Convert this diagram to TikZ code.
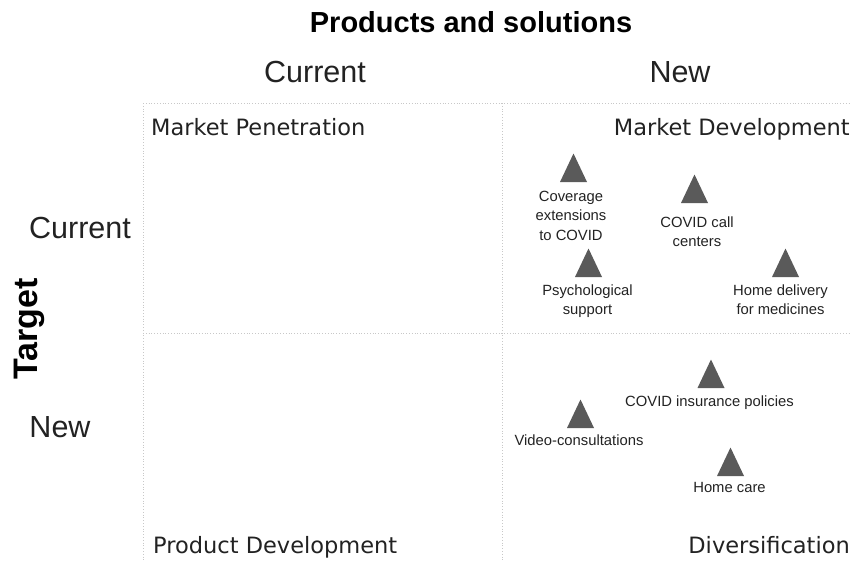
\documentclass[tikz,border=0pt]{standalone}
\usepackage{fontspec}
\setmainfont{Liberation Sans}
\newfontfamily\quadfont{DejaVu Sans}
\definecolor{trigray}{HTML}{5A5A5A}
\definecolor{gridgray}{HTML}{C8C8C8}
\definecolor{txtdark}{HTML}{222222}
\tikzset{
  gridline/.style={draw=gridgray, line width=0.8pt, dotted},
  bigbold/.style={font=\fontsize{29}{34}\selectfont\bfseries, inner sep=0pt},
  axislabel/.style={font=\fontsize{30.5}{36}\selectfont, inner sep=0pt, text=txtdark},
  quadlabel/.style={font=\quadfont\fontsize{22.5}{27}\selectfont, inner sep=0pt, text=txtdark},
  itemlabel/.style={font=\fontsize{14.8}{19.5}\selectfont, inner sep=0pt, align=center, text=txtdark, text depth=3.2pt},
  tri/.pic={\fill[trigray] (-13.5,0) -- (13.5,0) -- (0,-28.5) -- cycle;}
}
\begin{document}
\begin{tikzpicture}[x=1pt,y=-1pt]
\useasboundingbox (0,0) rectangle (851,560);
% grid
\coordinate (tl) at (143,103);
\coordinate (tm) at (502,103);
\coordinate (tr) at (851,103);
\coordinate (ml) at (143,333);
\coordinate (mr) at (851,333);
\coordinate (bl) at (143,560);
\coordinate (bm) at (502,560);
\draw[gridline] (tl) -- (tr);
\draw[gridline] (tl) -- (bl);
\draw[gridline] (tm) -- (bm);
\draw[gridline] (ml) -- (mr);
% headings
\node[bigbold] (title) at (471,22) {Products and solutions};
\node[axislabel] (pcur) at (315,72) {Current};
\node[axislabel] (pnew) at (680,72) {New};
\node[axislabel] (tcur) at (80,228) {Current};
\node[axislabel] (tnew) at (60,427) {New};
\node[bigbold, font=\fontsize{34}{40}\selectfont\bfseries, rotate=90] (target) at (29,329) {Target};
% quadrant labels
\node[quadlabel, anchor=base west] (mp) at (151,135) {Market Penetration};
\node[quadlabel, anchor=base east] (md) at (850,135) {Market Development};
\node[quadlabel, anchor=base west] (pd) at (153,553) {Product Development};
\node[quadlabel, anchor=base east] (dv) at (850,553) {Diversification};
% triangles (base centre)
\pic at (573.5,182) {tri};
\pic at (694.5,203) {tri};
\pic at (588.5,277) {tri};
\pic at (785.5,277) {tri};
\pic at (711,388) {tri};
\pic at (580.5,428) {tri};
\pic at (730.5,476) {tri};
% item labels
\node[itemlabel] (cov) at (571,217) {Coverage\\extensions\\to COVID};
\node[itemlabel] (call) at (697,233) {COVID call\\centers};
\node[itemlabel] (psy) at (587.5,301) {Psychological\\support};
\node[itemlabel] (home) at (780.5,301) {Home delivery\\for medicines};
\node[itemlabel] (ins) at (709.5,403) {COVID insurance policies};
\node[itemlabel] (vid) at (579,442) {Video-consultations};
\node[itemlabel] (care) at (729.5,489) {Home care};
\end{tikzpicture}
\end{document}
